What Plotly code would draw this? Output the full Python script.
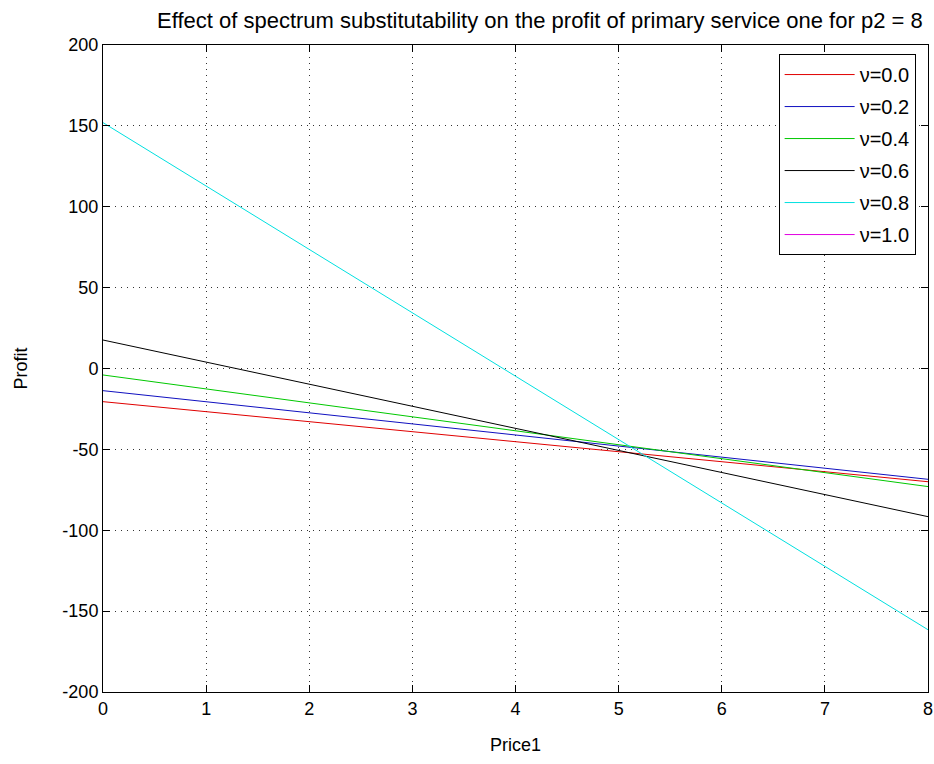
import plotly.graph_objects as go

price1 = [0, 8]
nu_labels = ["ν=0.0", "ν=0.2", "ν=0.4", "ν=0.6", "ν=0.8", "ν=1.0"]
profit_nu00 = [-20.5, -70]
profit_nu02 = [-13.7, -68.5]
profit_nu04 = [-4, -73]
profit_nu06 = [17.6, -91.6]
profit_nu08 = [152, -161.5]
profit_nu10 = [None, None]  # undefined (not drawn)

x_ticks = [0, 1, 2, 3, 4, 5, 6, 7, 8]
y_ticks = [-200, -150, -100, -50, 0, 50, 100, 150, 200]
y_ticktext = ["-200", "-150", "-100", "-50", "0", "50", "100", "150", "200"]

series = [profit_nu00, profit_nu02, profit_nu04, profit_nu06, profit_nu08, profit_nu10]
colors = ["#e00000", "#1010c0", "#00c800", "#000000", "#00e0e0", "#e000e0"]

fig = go.Figure()
for i, (lab, ys, c) in enumerate(zip(nu_labels, series, colors)):
    fig.add_trace(go.Scatter(x=price1, y=ys, mode="lines", name=lab,
                             legendgroup="g%d" % i,
                             line=dict(color=c, width=1), showlegend=True))

font = "Liberation Sans, Arial, sans-serif"
axis_common = dict(showline=True, linecolor="black", linewidth=1, mirror="ticks",
                   ticks="inside", ticklen=7, tickcolor="black", automargin=False,
                   showgrid=True, gridcolor="#333333", griddash="1px,5px", gridwidth=1,
                   zeroline=False, tickfont=dict(size=18, color="black", family=font))

fig.update_layout(
    width=934, height=764,
    margin=dict(l=103, r=6, t=45, b=72, autoexpand=False),
    paper_bgcolor="white", plot_bgcolor="white",
    title=dict(text="Effect of spectrum substitutability on the profit of primary service one for p2 = 8",
               x=0.578, xanchor="center", y=0.974, yanchor="middle",
               font=dict(size=22, color="black", family=font)),
    xaxis=dict(range=[0, 8], tickvals=x_ticks, ticklabeloverflow="allow",
               title=dict(text="Price1", standoff=20,
               font=dict(size=18, color="black", family=font)), **axis_common),
    yaxis=dict(range=[-200, 200], tickvals=y_ticks, ticktext=y_ticktext,
               title=dict(text="Profit", standoff=30,
               font=dict(size=18, color="black", family=font)), **axis_common),
    legend=dict(x=0.985, y=0.986, xanchor="right", yanchor="top",
                bordercolor="black", borderwidth=1, bgcolor="white",
                font=dict(size=20, color="black", family=font),
                itemwidth=70, tracegroupgap=3),
)

fig.write_html("out.html")
